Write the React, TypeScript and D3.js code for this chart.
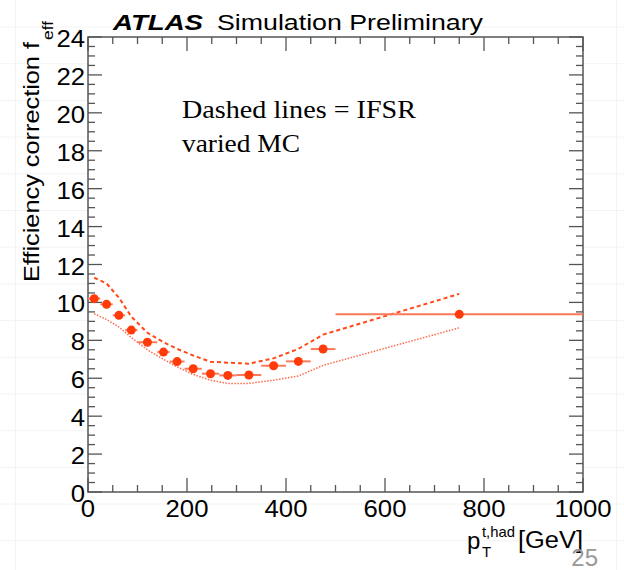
import React from "react";
import * as d3 from "d3";

const binEdges = [0, 25, 50, 75, 100, 140, 165, 195, 230, 265, 300, 350, 400, 450, 500, 1000];
const nominal = [10.2, 9.9, 9.32, 8.54, 7.9, 7.38, 6.88, 6.5, 6.24, 6.15, 6.17, 6.66, 6.89, 7.54, 9.37];
const upperVar = [11.3, 11.0, 10.25, 9.25, 8.4, 7.9, 7.55, 7.2, 6.87, 6.82, 6.77, 7.05, 7.55, 8.3, 10.45];
const lowerVar = [9.4, 9.1, 8.7, 8.15, 7.5, 7.0, 6.6, 6.2, 5.9, 5.72, 5.73, 5.9, 6.12, 6.68, 8.66];
const xTicks = [0, 200, 400, 600, 800, 1000];
const yTicks = [0, 2, 4, 6, 8, 10, 12, 14, 16, 18, 20, 22, 24];

const W = 624, H = 570;
const L = 88, R = 583, T = 37, B = 492;

export default function App() {
  const x = d3.scaleLinear().domain([0, 1000]).range([L, R]);
  const y = d3.scaleLinear().domain([0, 24]).range([B, T]);
  const centers = binEdges.slice(0, -1).map((e, i) => (e + binEdges[i + 1]) / 2);
  const line = d3.line<[number, number]>().x(d => x(d[0])).y(d => y(d[1]));
  const up = line(centers.map((c, i) => [c, upperVar[i]]));
  const lo = line(centers.map((c, i) => [c, lowerVar[i]]));
  const xMinor = d3.range(0, 1001, 50);
  const yMinor = d3.range(0, 24.01, 0.5);
  const bgH = d3.range(27, 570, 36.7);
  const axisCol = "#555";
  const font = "Liberation Sans, Arial, sans-serif";
  const digitW = 14.3;
  return (
    <div style={{ position: "fixed", left: 0, top: 0 }}>
      <svg width={W} height={H} style={{ display: "block", background: "#fff" }}>
        {bgH.map((v, i) => (
          <line key={"bg" + i} x1={0} x2={W} y1={v} y2={v} stroke="#f3f3f3" strokeWidth={1} />
        ))}
        <line x1={15.5} x2={15.5} y1={0} y2={H} stroke="#f3f3f3" />
        <line x1={616.5} x2={616.5} y1={0} y2={H} stroke="#f3f3f3" />
        <rect x={L} y={T} width={R - L} height={B - T} fill="#fff" />
        <rect x={L} y={T} width={R - L} height={B - T} fill="none" stroke={axisCol} strokeWidth={1.5} />
        {xMinor.map(v => {
          const major = v % 200 === 0;
          const len = major ? 14 : 7;
          return (
            <g key={"xt" + v}>
              <line x1={x(v)} x2={x(v)} y1={B} y2={B - len} stroke={axisCol} strokeWidth={1.3} />
              <line x1={x(v)} x2={x(v)} y1={T} y2={T + len} stroke={axisCol} strokeWidth={1.3} />
            </g>
          );
        })}
        {yMinor.map(v => {
          const major = Math.abs(v % 2) < 1e-6;
          const len = major ? 14 : 7;
          return (
            <g key={"yt" + v}>
              <line x1={L} x2={L + len} y1={y(v)} y2={y(v)} stroke={axisCol} strokeWidth={1.3} />
              <line x1={R} x2={R - len} y1={y(v)} y2={y(v)} stroke={axisCol} strokeWidth={1.3} />
            </g>
          );
        })}
        {xTicks.map(v => (
          <text key={"xl" + v} x={x(v)} y={517} textAnchor="middle" fontFamily={font} fontSize={23} fill="#000"
            textLength={String(v).length * digitW} lengthAdjust="spacingAndGlyphs">
            {v}
          </text>
        ))}
        {yTicks.map(v => (
          <text key={"yl" + v} x={85} y={y(v) + 10} textAnchor="end" fontFamily={font} fontSize={23} fill="#000"
            textLength={String(v).length * digitW} lengthAdjust="spacingAndGlyphs">
            {v}
          </text>
        ))}
        {/* y axis title */}
        <text transform="translate(39,282) rotate(-90)" fontFamily={font} fontSize={22} fill="#000"
          textLength={240} lengthAdjust="spacingAndGlyphs">
          Efficiency correction f
        </text>
        <text transform="translate(53,40) rotate(-90)" fontFamily={font} fontSize={14} fill="#000"
          textLength={19} lengthAdjust="spacingAndGlyphs">
          eff
        </text>
        {/* x axis title */}
        <text x={467} y={549} fontFamily={font} fontSize={24} fill="#000">p</text>
        <text x={482} y={537} fontFamily={font} fontSize={15} fill="#000" textLength={33} lengthAdjust="spacingAndGlyphs">t,had</text>
        <text x={482} y={557} fontFamily={font} fontSize={15} fill="#000">T</text>
        <text x={518} y={548} fontFamily={font} fontSize={23} fill="#000" textLength={65} lengthAdjust="spacingAndGlyphs">[GeV]</text>
        {/* header */}
        <text x={113} y={30} fontFamily={font} fontSize={22} fontWeight="bold" fontStyle="italic" fill="#000"
          textLength={90} lengthAdjust="spacingAndGlyphs">ATLAS</text>
        <text x={217} y={30} fontFamily={font} fontSize={22} fill="#000"
          textLength={266} lengthAdjust="spacingAndGlyphs">Simulation Preliminary</text>
        {/* annotation */}
        <text x={182} y={118} fontFamily="Liberation Serif, serif" fontSize={26} fill="#000"
          textLength={234} lengthAdjust="spacingAndGlyphs">Dashed lines = IFSR</text>
        <text x={182} y={152} fontFamily="Liberation Serif, serif" fontSize={26} fill="#000"
          textLength={118} lengthAdjust="spacingAndGlyphs">varied MC</text>
        {/* variation lines */}
        <path d={up ?? ""} fill="none" stroke="#ff4a1a" strokeWidth={2} strokeDasharray="4,3" />
        <path d={lo ?? ""} fill="none" stroke="#ff6a4a" strokeWidth={1.5} strokeDasharray="1.5,1.5" />
        {/* points */}
        {centers.map((c, i) => (
          <g key={"p" + i}>
            <line x1={x(binEdges[i])} x2={x(binEdges[i + 1])} y1={y(nominal[i])} y2={y(nominal[i])} stroke="#ff7a5a" strokeWidth={2} />
            <circle cx={x(c)} cy={y(nominal[i])} r={4.5} fill="#ff3b0a" />
          </g>
        ))}
        <text x={598} y={566} textAnchor="end" fontFamily="Liberation Sans, sans-serif" fontSize={24} fill="#999">25</text>
      </svg>
    </div>
  );
}
